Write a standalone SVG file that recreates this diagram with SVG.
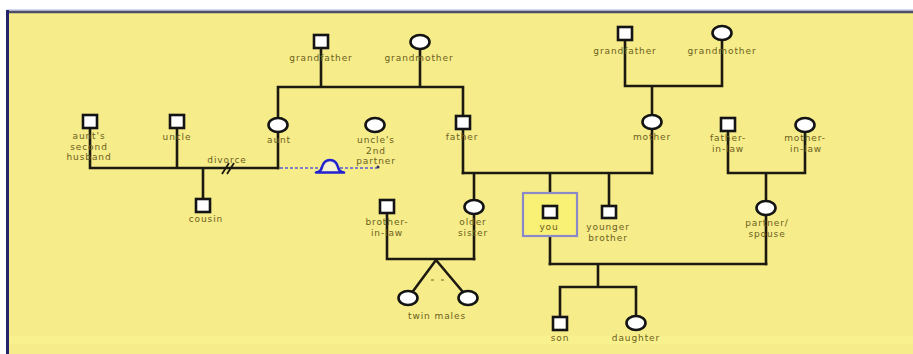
<svg xmlns="http://www.w3.org/2000/svg" width="913" height="354" viewBox="0 0 913 354">
<style>
.ln{stroke:#1c1a10;stroke-width:2.6;fill:none;stroke-linecap:square}
.m{fill:#ffffff;stroke:#141414;stroke-width:2.6}
.f{fill:#ffffff;stroke:#141414;stroke-width:2.6}
text{font-family:"DejaVu Sans",Verdana,sans-serif;font-size:9px;letter-spacing:0.9px;fill:#6b6020;text-anchor:middle}
</style>
<rect x="0" y="0" width="913" height="354" fill="#ffffff"/>
<rect x="7" y="11" width="906" height="343" fill="#f6ec8a"/>
<rect x="7" y="336" width="906" height="8" fill="#f9f08e"/>
<line x1="7" y1="10" x2="913" y2="10" stroke="#a8a8d8" stroke-width="1"/>
<line x1="7" y1="12" x2="913" y2="12" stroke="#4e4e66" stroke-width="2.5"/>
<line x1="7.5" y1="10" x2="7.5" y2="354" stroke="#24246a" stroke-width="3"/>

<g id="connectors">
  <path class="ln" d="M321,42 V87 M420,42 V87 M278,87 H463 M278,87 V168 M463,87 V173"/>
  <path class="ln" d="M90,122 V168 M177,122 V168 M90,168 H278 M203,168 V205"/>
  <path d="M222,174 L229,163 M227,174 L234,163" stroke="#1c1a10" stroke-width="1.8" fill="none"/>
  <line x1="280" y1="168" x2="377" y2="168" stroke="#7f7fc4" stroke-width="2" stroke-dasharray="3,2"/>
  <circle cx="378" cy="167" r="1.5" fill="#303060"/>
  <path d="M316,172.5 Q321,172 322,167 Q324,160 330,160 Q336,160 338,167 Q339,172 344,172.5 Z" fill="#f4f0d0" stroke="#2222d0" stroke-width="2.6" stroke-linejoin="round"/>
  <path class="ln" d="M625,34 V86 M722,34 V86 M625,86 H722 M652,86 V173"/>
  <path class="ln" d="M463,173 H652 M474,173 V259 M550,173 V264 M609,173 V212"/>
  <path class="ln" d="M728,125 V173 M805,125 V173 M728,173 H805 M766,173 V264"/>
  <path class="ln" d="M550,264 H766 M598,264 V287 M560,287 H636 M560,287 V323 M636,287 V323"/>
  <path class="ln" d="M387,207 V259 M387,259 H474"/>
  <path class="ln" d="M408,298 L436,260 L468,298" stroke-linecap="round"/>
  <path d="M431,280 h3 M441,280 h3" stroke="#6b6020" stroke-width="1.2"/>
</g>

<g id="grandfather-p"><rect class="m" x="314" y="35" width="14" height="13"/><text x="321" y="61">grandfather</text></g>
<g id="grandmother-p"><ellipse class="f" cx="420" cy="42" rx="9.5" ry="7"/><text x="419" y="61">grandmother</text></g>
<g id="aunt"><ellipse class="f" cx="278" cy="125" rx="9.5" ry="7"/><text x="279" y="143">aunt</text></g>
<g id="uncle-partner"><ellipse class="f" cx="375" cy="125" rx="9.5" ry="7"/><text x="376" y="143">uncle's</text><text x="376" y="153.5">2nd</text><text x="376" y="164">partner</text></g>
<g id="father"><rect class="m" x="456" y="116" width="14" height="13"/><text x="462" y="140">father</text></g>
<g id="aunt-husband"><rect class="m" x="83" y="115" width="14" height="13"/><text x="89" y="139">aunt's</text><text x="89" y="149.5">second</text><text x="89" y="160">husband</text></g>
<g id="uncle"><rect class="m" x="170" y="115" width="14" height="13"/><text x="177" y="140">uncle</text></g>
<g id="divorce-label"><text x="227" y="163">divorce</text></g>
<g id="cousin"><rect class="m" x="196" y="199" width="14" height="13"/><text x="206" y="222">cousin</text></g>

<g id="grandfather-m"><rect class="m" x="618" y="27" width="14" height="13"/><text x="625" y="54">grandfather</text></g>
<g id="grandmother-m"><ellipse class="f" cx="722" cy="33" rx="9.5" ry="7"/><text x="722" y="54">grandmother</text></g>
<g id="mother"><ellipse class="f" cx="652" cy="122" rx="9.5" ry="7"/><text x="652" y="140">mother</text></g>
<g id="father-in-law"><rect class="m" x="721" y="118" width="14" height="13"/><text x="728" y="141">father-</text><text x="728" y="152">in-law</text></g>
<g id="mother-in-law"><ellipse class="f" cx="805" cy="125" rx="9.5" ry="7"/><text x="805" y="141">mother-</text><text x="806" y="152">in-law</text></g>

<g id="brother-in-law"><rect class="m" x="380" y="200" width="14" height="13"/><text x="387" y="225">brother-</text><text x="387" y="236">in-law</text></g>
<g id="older-sister"><ellipse class="f" cx="474" cy="207" rx="9.5" ry="7"/><text x="473" y="225">older</text><text x="473" y="236">sister</text></g>
<g id="you"><rect x="523" y="193" width="54" height="43" fill="#f9f176" stroke="#8a88c8" stroke-width="2.2"/><rect class="m" x="543" y="206" width="14" height="12"/><text x="549" y="230">you</text></g>
<g id="younger-brother"><rect class="m" x="602" y="206" width="14" height="12"/><text x="608" y="230">younger</text><text x="608" y="241">brother</text></g>
<g id="partner-spouse"><ellipse class="f" cx="766" cy="208" rx="9.5" ry="7"/><text x="767" y="226">partner/</text><text x="767" y="237">spouse</text></g>

<g id="twin1"><ellipse class="f" cx="408" cy="298" rx="9.5" ry="7"/></g>
<g id="twin2"><ellipse class="f" cx="468" cy="298" rx="9.5" ry="7"/></g>
<g id="twins-label"><text x="437" y="319">twin males</text></g>
<g id="son"><rect class="m" x="553" y="317" width="14" height="13"/><text x="560" y="341">son</text></g>
<g id="daughter"><ellipse class="f" cx="636" cy="323" rx="9.5" ry="7"/><text x="636" y="341">daughter</text></g>
</svg>
